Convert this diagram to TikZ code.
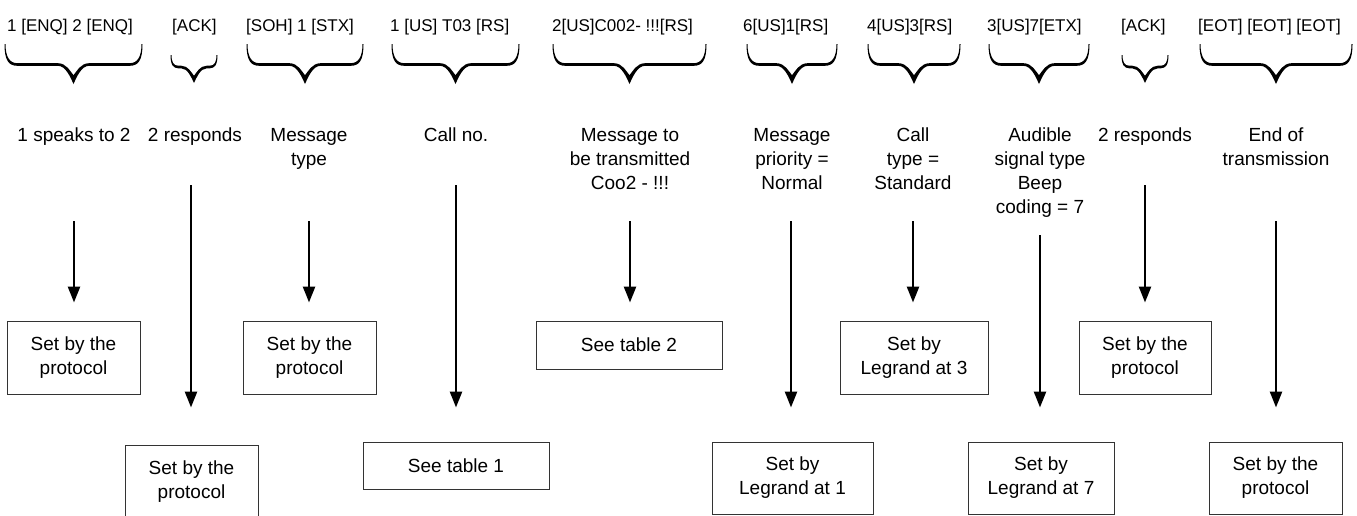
\documentclass[tikz,border=0pt]{standalone}
\usepackage{fontspec}
\setmainfont{Liberation Sans}
\usepackage{tikz}
\usetikzlibrary{arrows.meta, positioning}

% calligraphic brace under a frame code: left x, right x, top y, flat y, tip y
\newcommand{\codebrace}[5]{%
  \pgfmathsetmacro{\bxm}{(#1+#2)/2}%
  \pgfmathsetmacro{\bc}{0.6*(#4-#3)}%
  \pgfmathsetmacro{\bd}{#5-#4}%
  \pgfmathsetmacro{\bcc}{0.8*\bd}%
  \pgfmathsetmacro{\byn}{#5-0.45*\bd}%
  \pgfmathsetmacro{\byu}{#4-1.3}%
  \pgfmathsetmacro{\byl}{#4+1.3}%
  \pgfmathsetmacro{\bye}{#4-0.4*(#4-#3)}%
  \pgfmathsetmacro{\byo}{#4-0.2*(#4-#3)}%
  \fill (#1+0.5,#3) .. controls (#1+0.5,\bye) and (#1+0.35*\bc,\byu) .. (#1+\bc,\byu)
    -- (\bxm-\bcc,\byu) .. controls (\bxm-0.45*\bcc,\byu) and (\bxm-0.2*\bcc,\byn-0.35*\byn+0.35*#4) .. (\bxm,\byn)
    .. controls (\bxm+0.2*\bcc,\byn-0.35*\byn+0.35*#4) and (\bxm+0.45*\bcc,\byu) .. (\bxm+\bcc,\byu)
    -- (#2-\bc,\byu) .. controls (#2-0.35*\bc,\byu) and (#2-0.5,\bye) .. (#2-0.5,#3)
    -- (#2+0.5,#3) .. controls (#2+0.5,\byo) and (#2-0.3*\bc,\byl) .. (#2-\bc,\byl)
    -- (\bxm+\bcc,\byl) .. controls (\bxm+0.5*\bcc,\byl) and (\bxm+0.2*\bcc,#5-0.35*\bd) .. (\bxm,#5)
    .. controls (\bxm-0.2*\bcc,#5-0.35*\bd) and (\bxm-0.5*\bcc,\byl) .. (\bxm-\bcc,\byl)
    -- (#1+\bc,\byl) .. controls (#1+0.3*\bc,\byl) and (#1-0.5,\byo) .. (#1-0.5,#3) -- cycle;%
}

\begin{document}
\begin{tikzpicture}[
    x=1pt, y=-1pt,
    >={Triangle[length=16pt, width=12pt]},
    toplbl/.style={font=\fontsize{17}{20}\selectfont, anchor=base west, inner sep=0pt},
    desc/.style={font=\fontsize{19}{24}\selectfont, align=center, anchor=north, inner sep=0pt},
    setbox/.style={draw=black!80, line width=1pt, font=\fontsize{19}{24}\selectfont, align=center, inner sep=0pt, minimum height=73pt},
    tblbox/.style={draw=black!80, line width=1pt, font=\fontsize{19}{24}\selectfont, inner sep=0pt, minimum width=186pt, minimum height=47pt},
    arr/.style={->, line width=2.5pt, shorten >=#1},
]
\useasboundingbox (0,0) rectangle (1357,515);

% Frame codes
\node[toplbl] (c1) at (7,31) {1 [ENQ] 2 [ENQ]};
\node[toplbl] (c2) at (172,31) {[ACK]};
\node[toplbl] (c3) at (246,31) {[SOH] 1 [STX]};
\node[toplbl] (c4) at (390,31) {1 [US] T03 [RS]};
\node[toplbl] (c5) at (552,31) {2[US]C002- !!![RS]};
\node[toplbl] (c6) at (743,31) {6[US]1[RS]};
\node[toplbl] (c7) at (867,31) {4[US]3[RS]};
\node[toplbl] (c8) at (987,31) {3[US]7[ETX]};
\node[toplbl] (c9) at (1121,31) {[ACK]};
\node[toplbl] (c10) at (1198,31) {[EOT] [EOT] [EOT]};

% Braces
\codebrace{5}{142}{44}{64.5}{84}
\codebrace{171}{217}{55}{67}{83}
\codebrace{247}{363}{44}{64.5}{84}
\codebrace{392}{519}{44}{64.5}{84}
\codebrace{553}{706}{44}{64.5}{84}
\codebrace{747}{837}{44}{64.5}{84}
\codebrace{868}{960}{44}{64.5}{84}
\codebrace{989}{1089}{44}{64.5}{84}
\codebrace{1122}{1168}{55}{67}{83}
\codebrace{1200}{1352}{44}{64.5}{84}

% Meanings
\node[desc] (d1) at (74,128) {1 speaks to 2};
\node[desc] (d2) at (195,128) {2 responds};
\node[desc] (d3) at (309,128) {Message\\type};
\node[desc] (d4) at (456,128) {Call no.};
\node[desc] (d5) at (630,128) {Message to\\be transmitted\\Coo2 - !!!};
\node[desc] (d6) at (792,128) {Message\\priority =\\Normal};
\node[desc] (d7) at (913,128) {Call\\type =\\Standard};
\node[desc] (d8) at (1040,128) {Audible\\signal type\\Beep\\coding = 7};
\node[desc] (d9) at (1145,128) {2 responds};
\node[desc] (d10) at (1276,128) {End of\\transmission};

% Upper row of boxes
\node[setbox, minimum width=133pt] (b1) at (73.5,357.5) {Set by the\\protocol};
\node[setbox, minimum width=133pt] (b3) at (309.5,357.5) {Set by the\\protocol};
\node[tblbox, minimum height=48pt] (b5) at (629,345) {See table 2};
\node[setbox, minimum width=148pt] (b7) at (914,357.5) {Set by\\Legrand at 3};
\node[setbox, minimum width=132pt] (b9) at (1145,357.5) {Set by the\\protocol};

% Lower row of boxes
\node[setbox, minimum width=133pt] (b2) at (191.5,481.5) {Set by the\\protocol};
\node[tblbox] (b4) at (456,465.5) {See table 1};
\node[setbox, minimum width=161pt, minimum height=72pt] (b6) at (792.5,478) {Set by\\Legrand at 1};
\node[setbox, minimum width=146pt, minimum height=72pt] (b8) at (1041,478) {Set by\\Legrand at 7};
\node[setbox, minimum width=133pt, minimum height=72pt] (b10) at (1275.5,478) {Set by the\\protocol};

% Arrow starts
\coordinate (s1) at (74,221);
\coordinate (s2) at (191,185);
\coordinate (s3) at (309,221);
\coordinate (s4) at (456,185);
\coordinate (s5) at (630,221);
\coordinate (s6) at (791,221);
\coordinate (s7) at (913,221);
\coordinate (s8) at (1040,235);
\coordinate (s9) at (1145,185);
\coordinate (s10) at (1276,221);

% Arrows
\draw[arr=18pt] (s1) -- (s1 |- b1.north);
\draw[arr=37pt] (s2) -- (s2 |- b2.north);
\draw[arr=18pt] (s3) -- (s3 |- b3.north);
\draw[arr=34pt] (s4) -- (s4 |- b4.north);
\draw[arr=18pt] (s5) -- (s5 |- b5.north);
\draw[arr=34pt] (s6) -- (s6 |- b6.north);
\draw[arr=18pt] (s7) -- (s7 |- b7.north);
\draw[arr=34pt] (s8) -- (s8 |- b8.north);
\draw[arr=18pt] (s9) -- (s9 |- b9.north);
\draw[arr=34pt] (s10) -- (s10 |- b10.north);

\end{tikzpicture}
\end{document}
